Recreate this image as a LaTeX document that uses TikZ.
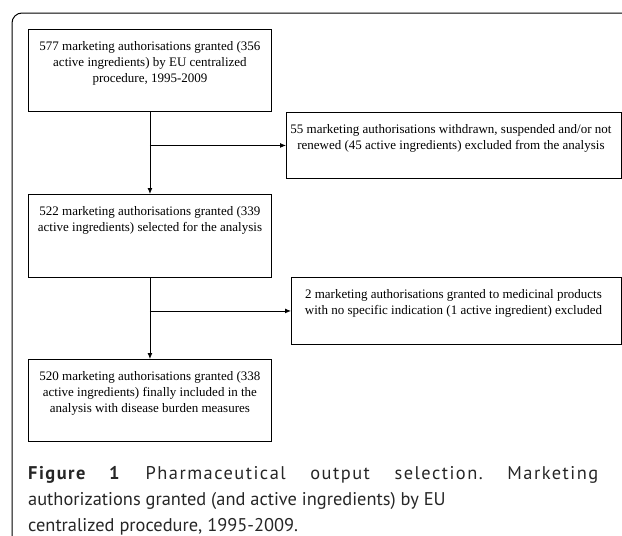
\documentclass[tikz,border=0pt]{standalone}
\usepackage{fontspec}
\setmainfont{Liberation Serif}
\newfontfamily\capfont{PT Sans}
\usetikzlibrary{positioning,calc,arrows.meta}
\frenchspacing

\tikzset{
  stepbox/.style={draw,line width=0.9pt,inner sep=0pt,anchor=north west,
    minimum width=243pt},
  sidebox/.style={draw,line width=0.9pt,inner sep=0pt,anchor=north west},
  boxtext/.style={anchor=north,align=center,inner sep=0pt,
    font=\fontsize{13}{15.8}\selectfont},
  flow/.style={line width=0.9pt,-{Latex[length=6pt,width=5pt]}},
}

\begin{document}
\begin{tikzpicture}[x=1pt,y=-1pt]
\useasboundingbox (0,0) rectangle (622,536);
% Outer frame, open at the right and at the bottom
\draw[line width=1pt,rounded corners=10pt] (12,536) -- (12,13) -- (622,13);
% Main column of boxes
\node[stepbox,minimum height=82pt] (granted) at (28,29) {};
\node[stepbox,minimum height=83pt] (selected) at (28,194) {};
\node[stepbox,minimum height=82pt] (included) at (28,359) {};
% Side boxes for what is left out
\node[sidebox,minimum width=335pt,minimum height=66pt] (withdrawn) at (286,112) {};
\node[sidebox,minimum width=330pt,minimum height=67pt] (noindic) at (291,277) {};
% Texts, set near the top of each box
\node[boxtext] (grantedtext) at ($(granted.north)+(0,12.5)$)
  {577 marketing authorisations granted (356\\
   active ingredients) by EU centralized\\
   procedure, 1995-2009};
\node[boxtext] (selectedtext) at ($(selected.north)+(0,12.5)$)
  {522 marketing authorisations granted (339\\
   active ingredients) selected for the analysis};
\node[boxtext] (includedtext) at ($(included.north)+(0,12.5)$)
  {520 marketing authorisations granted (338\\
   active ingredients) finally included in the\\
   analysis with disease burden measures};
\node[boxtext] (withdrawntext) at ($(withdrawn.north)+(-3,12)$)
  {55 marketing authorisations withdrawn, suspended and/or not\\
   renewed (45 active ingredients) excluded from the analysis};
\node[boxtext] (noindictext) at ($(noindic.north)+(-3,12)$)
  {2 marketing authorisations granted to medicinal products\\
   with no specific indication (1 active ingredient) excluded};
% Flow down the column, with a branch to each side box
\draw[flow] (granted.south) -- (selected.north);
\draw[flow] (granted.south |- withdrawn.west) -- (withdrawn.west);
\draw[flow] (selected.south) -- (included.north);
\draw[flow] (selected.south |- noindic.west) -- (noindic.west);
% Caption, first line spread out
\node[anchor=north west,inner sep=0pt,text width=570pt,align=justify,
  font=\capfont\fontsize{18.4}{26}\selectfont,text=black!85] (caption) at (28,466)
  {{\addfontfeature{LetterSpace=8}\textbf{\addfontfeature{LetterSpace=8}Figure 1}
   Pharmaceutical output selection. Marketing}\linebreak
   authorizations granted (and active ingredients) by EU\newline
   centralized procedure, 1995-2009.};
\end{tikzpicture}
\end{document}
